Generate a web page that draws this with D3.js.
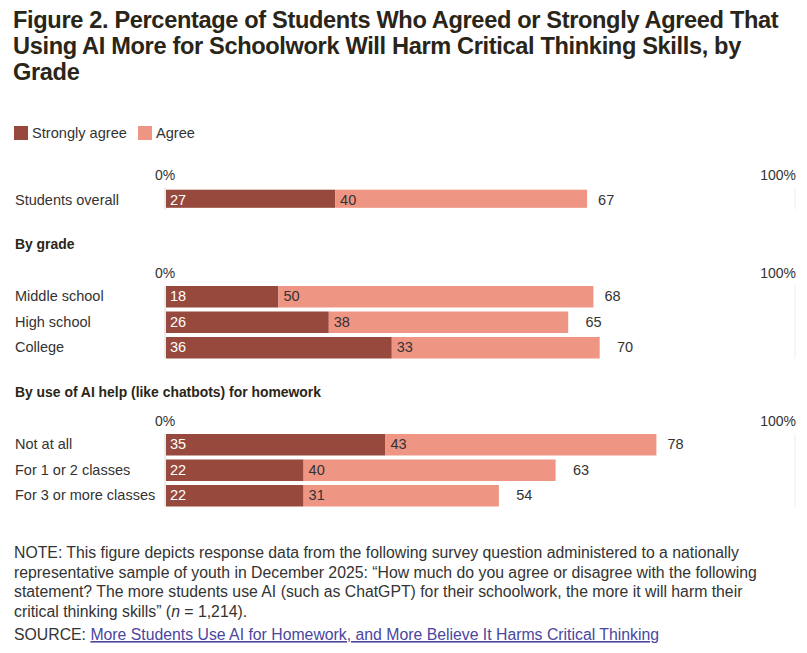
<!DOCTYPE html>
<html>
<head>
<meta charset="utf-8">
<script src="https://cdn.jsdelivr.net/npm/d3@7"></script>
<style>
  body { margin: 0; background: #fff; }
  svg { display: block; font-family: "Liberation Sans", Arial, sans-serif; }
</style>
</head>
<body>
<svg id="chart" width="807" height="653"></svg>
<script>
// data
const groups = ["Students overall", "By grade", "By use of AI help (like chatbots) for homework"];
const categories = ["Students overall", "Middle school", "High school", "College", "Not at all", "For 1 or 2 classes", "For 3 or more classes"];
const categoryGroup = [0, 1, 1, 1, 2, 2, 2];
const stronglyAgree = [27, 18, 26, 36, 35, 22, 22];
const agree = [40, 50, 38, 33, 43, 40, 31];
const totals = [67, 68, 65, 70, 78, 63, 54];
const seriesNames = ["Strongly agree", "Agree"];
const tickValues = [0, 100];
const tickLabels = ["0%", "100%"];

const titleLines = [
  "Figure 2. Percentage of Students Who Agreed or Strongly Agreed That",
  "Using AI More for Schoolwork Will Harm Critical Thinking Skills, by",
  "Grade"
];
const noteLines = [
  "NOTE: This figure depicts response data from the following survey question administered to a nationally",
  "representative sample of youth in December 2025: \u201cHow much do you agree or disagree with the following",
  "statement? The more students use AI (such as ChatGPT) for their schoolwork, the more it will harm their"
];
const sourceText = "More Students Use AI for Homework, and More Believe It Harms Critical Thinking";

const colors = { strong: "#96493c", agree: "#ef9583", text: "#333", title: "#2a2519" };

const svg = d3.select("#chart");

// title
svg.append("g").selectAll("text").data(titleLines).join("text")
  .attr("x", 13)
  .attr("y", (d, i) => 28 + i * 26)
  .attr("fill", colors.title)
  .attr("font-weight", "bold")
  .attr("font-size", 23.6)
  .attr("letter-spacing", -0.35)
  .text(d => d)
  .each(function(d) {
    // keep the first line to the width of the original
    const w = this.getComputedTextLength();
    if (d === titleLines[0] && w > 768) {
      d3.select(this).attr("textLength", 768);
    }
  });

// legend
const legendX = [14, 138];
const legend = svg.append("g").selectAll("g").data(seriesNames).join("g")
  .attr("transform", (d, i) => `translate(${legendX[i]},126)`);
legend.append("rect")
  .attr("width", 14).attr("height", 14)
  .attr("fill", (d, i) => i === 0 ? colors.strong : colors.agree);
legend.append("text")
  .attr("x", 18).attr("y", 12)
  .attr("font-size", 14.6)
  .attr("fill", colors.text)
  .text(d => d);

const x = d3.scaleLinear().domain([0, 100]).range([165, 795]);

const groupTop = [188, 286, 434];
const headerY = [null, 249, 397];
const rowStep = 25.5;
const barH = 21.5;
const fs = 14.5;

groups.forEach((g, gi) => {
  const idx = categories.map((c, i) => i).filter(i => categoryGroup[i] === gi);
  const bottom = groupTop[gi] + idx.length * rowStep - (rowStep - barH);
  const y = d3.scaleBand()
    .domain(idx.map(i => categories[i]))
    .range([groupTop[gi], bottom])
    .paddingInner((rowStep - barH) / rowStep)
    .paddingOuter(0);

  const grp = svg.append("g");

  if (headerY[gi] !== null) {
    grp.append("text")
      .attr("x", 15).attr("y", headerY[gi])
      .attr("font-size", 13.9)
      .attr("font-weight", "bold")
      .attr("fill", colors.title)
      .text(g);
  }

  // ticks (0% and 100%) with faint guide lines
  grp.selectAll(".tick-label").data(tickValues).join("text")
    .attr("class", "tick-label")
    .attr("x", d => d === 0 ? x(d) : x(d) + 1)
    .attr("y", groupTop[gi] - 8)
    .attr("text-anchor", d => d === 0 ? "middle" : "end")
    .attr("font-size", 14)
    .attr("fill", colors.text)
    .text((d, i) => tickLabels[i]);
  grp.selectAll(".guide").data(tickValues).join("line")
    .attr("class", "guide")
    .attr("x1", d => x(d)).attr("x2", d => x(d))
    .attr("y1", groupTop[gi]).attr("y2", bottom)
    .attr("stroke", d => d === 0 ? "#d8d8d8" : "#eeeeee")
    .attr("stroke-width", 1);

  idx.forEach(i => {
    const cat = categories[i];
    const top = y(cat);
    const bw = y.bandwidth();
    const row = grp.append("g");
    const ty = top + 15;

    row.append("text")
      .attr("x", 15).attr("y", ty)
      .attr("font-size", fs)
      .attr("fill", colors.text)
      .text(cat);

    row.append("rect")
      .attr("x", x(0) + 1).attr("y", top)
      .attr("width", x(stronglyAgree[i]) - x(0) - 1)
      .attr("height", bw)
      .attr("fill", colors.strong);
    row.append("rect")
      .attr("x", x(stronglyAgree[i])).attr("y", top)
      .attr("width", x(stronglyAgree[i] + agree[i]) - x(stronglyAgree[i]))
      .attr("height", bw)
      .attr("fill", colors.agree);

    row.append("text")
      .attr("x", x(0) + 5).attr("y", ty)
      .attr("font-size", fs)
      .attr("fill", "#fff")
      .text(stronglyAgree[i]);
    row.append("text")
      .attr("x", x(stronglyAgree[i]) + 5).attr("y", ty)
      .attr("font-size", fs)
      .attr("fill", colors.text)
      .text(agree[i]);
    row.append("text")
      .attr("x", x(totals[i]) + 11).attr("y", ty)
      .attr("font-size", fs)
      .attr("fill", colors.text)
      .text(totals[i]);
  });
});

// note
const note = svg.append("g").attr("font-size", 15.8).attr("fill", colors.text);
note.selectAll("text.nl").data(noteLines).join("text")
  .attr("class", "nl")
  .attr("x", 14)
  .attr("y", (d, i) => 558 + i * 19.5)
  .text(d => d);
const last = note.append("text").attr("x", 14).attr("y", 558 + 3 * 19.5);
last.append("tspan").text("critical thinking skills\u201d (");
last.append("tspan").attr("font-style", "italic").text("n");
last.append("tspan").text(" = 1,214).");

const src = note.append("text").attr("x", 14).attr("y", 640);
src.append("tspan").text("SOURCE: ");
src.append("tspan")
  .attr("fill", "#4a46a0")
  .attr("text-decoration", "underline")
  .text(sourceText);
</script>
</body>
</html>
